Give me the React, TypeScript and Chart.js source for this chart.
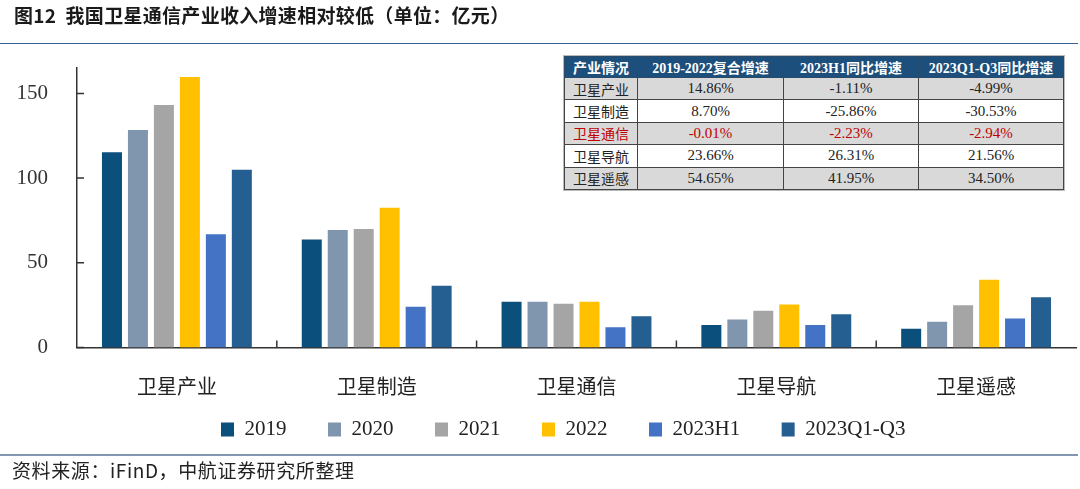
import React, { useEffect, useRef } from "react";
import { Chart, registerables } from "chart.js";

Chart.register(...registerables);

// ---- data ----
const categories = ["卫星产业", "卫星制造", "卫星通信", "卫星导航", "卫星遥感"];
const seriesNames = ["2019", "2020", "2021", "2022", "2023H1", "2023Q1-Q3"];
const v2019 = [115.2, 63.8, 27.0, 13.3, 11.0];
const v2020 = [128.4, 69.3, 27.0, 16.5, 15.2];
const v2021 = [143.1, 69.9, 25.8, 21.7, 25.0];
const v2022 = [159.7, 82.5, 27.0, 25.4, 40.0];
const v2023H1 = [66.9, 24.0, 12.0, 13.3, 17.1];
const v2023Q1Q3 = [104.9, 36.4, 18.5, 19.7, 29.7];
const yMax = 165;
const yStep = 50;

const tableHeader = ["产业情况", "2019-2022复合增速", "2023H1同比增速", "2023Q1-Q3同比增速"];
const tableCagr = ["14.86%", "8.70%", "-0.01%", "23.66%", "54.65%"];
const tableH1 = ["-1.11%", "-25.86%", "-2.23%", "26.31%", "41.95%"];
const tableQ1Q3 = ["-4.99%", "-30.53%", "-2.94%", "21.56%", "34.50%"];
const highlightRow = 2;

const titleText = "图12  我国卫星通信产业收入增速相对较低（单位：亿元）";
const sourceText = "资料来源：iFinD，中航证券研究所整理";

// ---- styles ----
const seriesColors = ["#0b4f7c", "#8096ae", "#a5a5a5", "#ffc000", "#4472c4", "#255e91"];
const serif = "'Liberation Serif', 'Noto Sans CJK SC', serif";
const cjk = "'Noto Sans CJK SC', sans-serif";

const innerTicks = {
  id: "innerTicks",
  afterDraw(chart: any) {
    const { ctx, chartArea, scales } = chart;
    const x = scales.x;
    const y = scales.y;
    ctx.save();
    ctx.strokeStyle = "#333";
    ctx.lineWidth = 1.5;
    ctx.beginPath();
    y.ticks.forEach((t: any) => {
      const py = y.getPixelForValue(t.value);
      ctx.moveTo(chartArea.left, py);
      ctx.lineTo(chartArea.left + 7, py);
    });
    for (let i = 0; i < categories.length - 1; i++) {
      const px = (x.getPixelForValue(i) + x.getPixelForValue(i + 1)) / 2;
      ctx.moveTo(px, chartArea.bottom);
      ctx.lineTo(px, chartArea.bottom - 7);
    }
    ctx.stroke();
    ctx.restore();
  },
};

// place the legend row where the reference has it
const legendPlace = {
  id: "legendPlace",
  afterLayout(chart: any) {
    const lg = chart.legend;
    if (lg) {
      const h = lg.height;
      lg.left = 179.5;
      lg.top = 377.5;
      lg.bottom = lg.top + h;
    }
  },
};

export default function App() {
  const ref = useRef<HTMLCanvasElement | null>(null);

  useEffect(() => {
    if (!ref.current) return;
    const all = [v2019, v2020, v2021, v2022, v2023H1, v2023Q1Q3];
    const chart = new Chart(ref.current, {
      type: "bar",
      data: {
        labels: categories,
        datasets: seriesNames.map((name, i) => ({
          label: name,
          data: all[i],
          backgroundColor: seriesColors[i],
          borderWidth: 0,
          categoryPercentage: 0.78,
          barPercentage: 0.77,
        })),
      },
      options: {
        responsive: false,
        animation: false,
        layout: { padding: { top: 68, right: 4, left: 0, bottom: 0 } },
        plugins: {
          title: { display: false },
          tooltip: { enabled: false },
          legend: {
            position: "bottom",
            align: "start",
            labels: {
              boxWidth: 13,
              boxHeight: 14,
              padding: 41.5,
              color: "#222",
              font: { family: serif, size: 21 },
            },
          },
        },
        scales: {
          x: {
            grid: { display: false, drawTicks: false },
            border: { display: true, color: "#333", width: 1.5 },
            ticks: {
              padding: 27,
              color: "#222",
              font: { family: cjk, size: 20 },
              maxRotation: 0,
            },
            afterFit: (s: any) => {
              s.height = 60;
            },
          },
          y: {
            min: 0,
            max: yMax,
            grid: { display: false, drawTicks: false },
            border: { display: true, color: "#333", width: 1.5 },
            ticks: {
              stepSize: yStep,
              includeBounds: false,
              padding: 29,
              color: "#333",
              font: { family: serif, size: 21 },
            },
            afterFit: (s: any) => {
              s.width = 77;
            },
          },
        },
      },
      plugins: [innerTicks, legendPlace],
    });
    return () => chart.destroy();
  }, []);

  const cellBase: React.CSSProperties = {
    border: "1px solid #444",
    textAlign: "center",
    padding: 0,
    whiteSpace: "nowrap",
  };

  return (
    <div
      style={{
        position: "absolute",
        left: 0,
        top: 0,
        width: 1080,
        height: 489,
        background: "#fff",
        overflow: "hidden",
        fontFamily: serif,
      }}
    >
      <canvas
        ref={ref}
        width={1080}
        height={480}
        style={{ position: "absolute", left: 0, top: 0, width: 1080, height: 480 }}
      />
      <div
        style={{
          position: "absolute",
          left: 14,
          top: 3,
          fontFamily: cjk,
          fontWeight: 700,
          fontSize: 19,
          letterSpacing: 0.3,
          lineHeight: "24px",
          color: "#1a1a1a",
          whiteSpace: "pre",
        }}
      >
        {titleText}
      </div>
      <div style={{ position: "absolute", left: 0, top: 42.5, width: 1078, height: 1.5, background: "#3b5f9a" }} />
      <div style={{ position: "absolute", left: 0, top: 454, width: 1078, height: 2, background: "#8497b0" }} />
      <div
        style={{
          position: "absolute",
          left: 12,
          top: 458,
          fontFamily: cjk,
          fontSize: 19,
          letterSpacing: 0.6,
          lineHeight: "24px",
          color: "#222",
          background: "#fff",
        }}
      >
        {sourceText}
      </div>
      <table
        style={{
          position: "absolute",
          left: 564,
          top: 56,
          width: 499,
          borderCollapse: "collapse",
          tableLayout: "fixed",
          outline: "1px solid #bbb",
          fontFamily: serif,
          fontSize: 15,
          color: "#222",
        }}
      >
        <colgroup>
          <col style={{ width: 73 }} />
          <col style={{ width: 146 }} />
          <col style={{ width: 135 }} />
          <col style={{ width: 145 }} />
        </colgroup>
        <thead>
          <tr style={{ height: 21 }}>
            {tableHeader.map((h, i) => (
              <th
                key={i}
                style={{
                  ...cellBase,
                  background: "#1c4f7c",
                  color: "#fff",
                  fontWeight: 700,
                  fontSize: 14,
                  border: "1px solid #2a4a6a",
                }}
              >
                {h}
              </th>
            ))}
          </tr>
        </thead>
        <tbody>
          {categories.map((c, r) => {
            const bg = r % 2 === 0 ? "#d9d9d9" : "#ffffff";
            const color = r === highlightRow ? "#c00000" : "#222";
            return (
              <tr key={r} style={{ height: 22.4, background: bg, color }}>
                <td style={{ ...cellBase, fontFamily: cjk, fontSize: 14 }}>{c}</td>
                <td style={cellBase}>{tableCagr[r]}</td>
                <td style={cellBase}>{tableH1[r]}</td>
                <td style={cellBase}>{tableQ1Q3[r]}</td>
              </tr>
            );
          })}
        </tbody>
      </table>
    </div>
  );
}
